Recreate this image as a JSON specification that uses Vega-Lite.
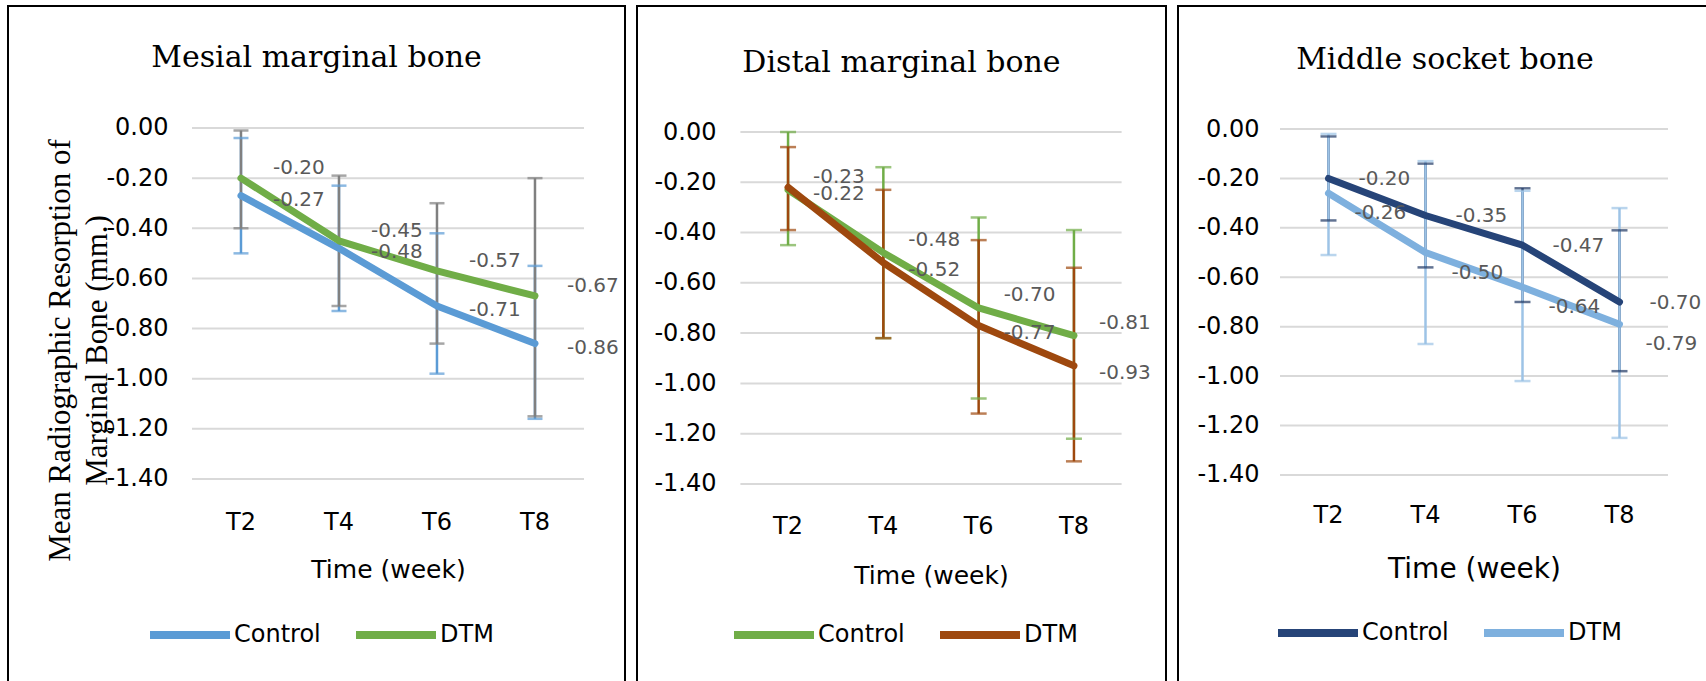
{
  "$schema": "https://vega.github.io/schema/vega-lite/v6.json",
  "padding": {"left": 7, "top": 5, "right": 0, "bottom": 0},
  "background": "white",
  "spacing": 10,
  "resolve": {"scale": {"color": "independent", "x": "independent", "y": "independent"}, "legend": {"color": "independent"}},
  "config": {
    "view": {"stroke": "black", "strokeWidth": 2},
    "locale": {"number": {"decimal": ".", "thousands": ",", "grouping": [3], "currency": ["$", ""], "minus": "-"}},
    "axis": {"grid": false, "domain": false, "ticks": false, "tickSize": 0, "labelPadding": 0, "labelColor": "black", "labelFont": "DejaVu Sans", "labelFontSize": 24, "titleColor": "black", "titleFont": "DejaVu Sans", "titleFontWeight": "normal", "labelAngle": 0},
    "title": {"font": "DejaVu Serif", "fontSize": 30, "fontWeight": "normal", "color": "black", "anchor": "middle", "frame": "group", "baseline": "alphabetic"},
    "legend": {"symbolType": "stroke", "symbolStrokeWidth": 8, "labelFont": "DejaVu Sans", "labelFontSize": 24, "labelColor": "black", "labelOffset": 0, "columnPadding": 19}
  },
  "datasets": {
    "d": [
      {"panel": "Mesial", "group": "Control", "time": "T2", "mean": -0.27, "lo": -0.50, "hi": -0.04},
      {"panel": "Mesial", "group": "Control", "time": "T4", "mean": -0.48, "lo": -0.73, "hi": -0.23},
      {"panel": "Mesial", "group": "Control", "time": "T6", "mean": -0.71, "lo": -0.98, "hi": -0.42},
      {"panel": "Mesial", "group": "Control", "time": "T8", "mean": -0.86, "lo": -1.16, "hi": -0.55},
      {"panel": "Mesial", "group": "DTM", "time": "T2", "mean": -0.20, "lo": -0.40, "hi": -0.01},
      {"panel": "Mesial", "group": "DTM", "time": "T4", "mean": -0.45, "lo": -0.71, "hi": -0.19},
      {"panel": "Mesial", "group": "DTM", "time": "T6", "mean": -0.57, "lo": -0.86, "hi": -0.30},
      {"panel": "Mesial", "group": "DTM", "time": "T8", "mean": -0.67, "lo": -1.15, "hi": -0.20},
      {"panel": "Distal", "group": "Control", "time": "T2", "mean": -0.23, "lo": -0.45, "hi": 0.00},
      {"panel": "Distal", "group": "Control", "time": "T4", "mean": -0.48, "lo": -0.82, "hi": -0.14},
      {"panel": "Distal", "group": "Control", "time": "T6", "mean": -0.70, "lo": -1.06, "hi": -0.34},
      {"panel": "Distal", "group": "Control", "time": "T8", "mean": -0.81, "lo": -1.22, "hi": -0.39},
      {"panel": "Distal", "group": "DTM", "time": "T2", "mean": -0.22, "lo": -0.39, "hi": -0.06},
      {"panel": "Distal", "group": "DTM", "time": "T4", "mean": -0.52, "lo": -0.82, "hi": -0.23},
      {"panel": "Distal", "group": "DTM", "time": "T6", "mean": -0.77, "lo": -1.12, "hi": -0.43},
      {"panel": "Distal", "group": "DTM", "time": "T8", "mean": -0.93, "lo": -1.31, "hi": -0.54},
      {"panel": "Middle", "group": "Control", "time": "T2", "mean": -0.20, "lo": -0.37, "hi": -0.03},
      {"panel": "Middle", "group": "Control", "time": "T4", "mean": -0.35, "lo": -0.56, "hi": -0.14},
      {"panel": "Middle", "group": "Control", "time": "T6", "mean": -0.47, "lo": -0.70, "hi": -0.24},
      {"panel": "Middle", "group": "Control", "time": "T8", "mean": -0.70, "lo": -0.98, "hi": -0.41},
      {"panel": "Middle", "group": "DTM", "time": "T2", "mean": -0.26, "lo": -0.51, "hi": -0.02},
      {"panel": "Middle", "group": "DTM", "time": "T4", "mean": -0.50, "lo": -0.87, "hi": -0.13},
      {"panel": "Middle", "group": "DTM", "time": "T6", "mean": -0.64, "lo": -1.02, "hi": -0.25},
      {"panel": "Middle", "group": "DTM", "time": "T8", "mean": -0.79, "lo": -1.25, "hi": -0.32}
    ],
    "grid": [
      {"mean": 0}, {"mean": -0.2}, {"mean": -0.4}, {"mean": -0.6}, {"mean": -0.8}, {"mean": -1.0}, {"mean": -1.2}, {"mean": -1.4}
    ]
  },
  "hconcat": [
    {
      "width": 617,
      "height": 677,
      "title": {"text": "Mesial marginal bone", "offset": -67},
      "encoding": {
        "x": {"field": "time", "type": "nominal", "scale": {"type": "band", "domain": [" ", "T2", "T4", "T6", "T8"], "paddingInner": 0, "paddingOuter": 0.648, "align": 0.677},
          "axis": {"offset": -173, "labelFontSize": 24, "title": "Time (week)", "titleFontSize": 25, "titleX": 380, "titleY": 67, "titleBaseline": "alphabetic"}},
        "y": {"field": "mean", "type": "quantitative", "scale": {"domain": [-2.2138, 0.4866], "nice": false, "zero": false},
          "axis": {"values": [0, -0.2, -0.4, -0.6, -0.8, -1.0, -1.2, -1.4], "format": ".2f", "offset": -160,
            "title": ["Mean Radiographic Resorption of", "Marginal Bone (mm.)"], "titleFont": "Liberation Serif", "titleFontSize": 31, "titleLineHeight": 37, "titleAngle": -90, "titleX": -108, "titleY": 344, "titleBaseline": "middle", "titleAlign": "center"}}
      },
      "layer": [
        {"data": {"name": "grid"}, "mark": {"type": "rule", "color": "#D9D9D9", "strokeWidth": 2},
          "encoding": {"x": {"datum": "T2", "bandPosition": 0}, "x2": {"datum": "T8", "bandPosition": 1}}},
        {"data": {"name": "d"}, "transform": [{"filter": "datum.panel == 'Mesial'"}],
          "mark": {"type": "rule", "strokeWidth": 2.5},
          "encoding": {"y": {"field": "lo", "type": "quantitative"}, "y2": {"field": "hi"},
            "stroke": {"condition": {"test": "datum.group == 'Control'", "value": "#5B9BD5"}, "value": "#808080"}}},
        {"data": {"name": "d"}, "transform": [{"filter": "datum.panel == 'Mesial'"}],
          "mark": {"type": "tick", "orient": "horizontal", "size": 15, "thickness": 2.5},
          "encoding": {"y": {"field": "lo", "type": "quantitative"},
            "fill": {"condition": {"test": "datum.group == 'Control'", "value": "#5B9BD5"}, "value": "#808080"}}},
        {"data": {"name": "d"}, "transform": [{"filter": "datum.panel == 'Mesial'"}],
          "mark": {"type": "tick", "orient": "horizontal", "size": 15, "thickness": 2.5},
          "encoding": {"y": {"field": "hi", "type": "quantitative"},
            "fill": {"condition": {"test": "datum.group == 'Control'", "value": "#5B9BD5"}, "value": "#808080"}}},
        {"data": {"name": "d"}, "transform": [{"filter": "datum.panel == 'Mesial'"}],
          "mark": {"type": "line", "strokeWidth": 7, "strokeCap": "round", "strokeJoin": "round"},
          "encoding": {"color": {"field": "group", "type": "nominal", "scale": {"domain": ["Control", "DTM"], "range": ["#5B9BD5", "#70AD47"]},
            "legend": {"orient": "none", "legendX": 138, "legendY": 585, "direction": "horizontal", "title": null, "symbolSize": 6400, "padding": 0}}}},
        {"data": {"name": "d"}, "transform": [{"filter": "datum.panel == 'Mesial' && datum.group == 'DTM'"}],
          "mark": {"type": "text", "align": "left", "baseline": "middle", "dx": 32, "dy": -10, "font": "DejaVu Sans", "fontSize": 20, "color": "#595959"},
          "encoding": {"text": {"field": "mean", "type": "quantitative", "format": ".2f"}}},
        {"data": {"name": "d"}, "transform": [{"filter": "datum.panel == 'Mesial' && datum.group == 'Control'"}],
          "mark": {"type": "text", "align": "left", "baseline": "middle", "dx": 32, "dy": 4, "font": "DejaVu Sans", "fontSize": 20, "color": "#595959"},
          "encoding": {"text": {"field": "mean", "type": "quantitative", "format": ".2f"}}}
      ]
    },
    {
      "width": 529,
      "height": 677,
      "title": {"text": "Distal marginal bone", "offset": -72},
      "encoding": {
        "x": {"field": "time", "type": "nominal", "scale": {"type": "band", "domain": ["T2", "T4", "T6", "T8"], "paddingInner": 0, "paddingOuter": 0.7755, "align": 0.6996},
          "axis": {"offset": -169, "labelFontSize": 24, "title": "Time (week)", "titleFontSize": 25, "titleX": 294, "titleY": 69, "titleBaseline": "alphabetic"}},
        "y": {"field": "mean", "type": "quantitative", "scale": {"domain": [-2.1917, 0.5012], "nice": false, "zero": false},
          "axis": {"values": [0, -0.2, -0.4, -0.6, -0.8, -1.0, -1.2, -1.4], "format": ".2f", "offset": -79, "title": null}}
      },
      "layer": [
        {"data": {"name": "grid"}, "mark": {"type": "rule", "color": "#D9D9D9", "strokeWidth": 2},
          "encoding": {"x": {"datum": "T2", "bandPosition": 0}, "x2": {"datum": "T8", "bandPosition": 1}}},
        {"data": {"name": "d"}, "transform": [{"filter": "datum.panel == 'Distal'"}],
          "mark": {"type": "rule", "strokeWidth": 2.5},
          "encoding": {"y": {"field": "lo", "type": "quantitative"}, "y2": {"field": "hi"},
            "stroke": {"condition": {"test": "datum.group == 'Control'", "value": "#70AD47"}, "value": "#9E480E"}}},
        {"data": {"name": "d"}, "transform": [{"filter": "datum.panel == 'Distal'"}],
          "mark": {"type": "tick", "orient": "horizontal", "size": 16, "thickness": 2.5},
          "encoding": {"y": {"field": "lo", "type": "quantitative"},
            "fill": {"condition": {"test": "datum.group == 'Control'", "value": "#70AD47"}, "value": "#9E480E"}}},
        {"data": {"name": "d"}, "transform": [{"filter": "datum.panel == 'Distal'"}],
          "mark": {"type": "tick", "orient": "horizontal", "size": 16, "thickness": 2.5},
          "encoding": {"y": {"field": "hi", "type": "quantitative"},
            "fill": {"condition": {"test": "datum.group == 'Control'", "value": "#70AD47"}, "value": "#9E480E"}}},
        {"data": {"name": "d"}, "transform": [{"filter": "datum.panel == 'Distal'"}],
          "mark": {"type": "line", "strokeWidth": 7, "strokeCap": "round", "strokeJoin": "round"},
          "encoding": {"color": {"field": "group", "type": "nominal", "scale": {"domain": ["Control", "DTM"], "range": ["#70AD47", "#9E480E"]},
            "legend": {"orient": "none", "legendX": 93, "legendY": 585, "direction": "horizontal", "title": null, "symbolSize": 6400, "padding": 0}}}},
        {"data": {"name": "d"}, "transform": [{"filter": "datum.panel == 'Distal' && datum.group == 'Control'"}],
          "mark": {"type": "text", "align": "left", "baseline": "middle", "dx": 25, "dy": -13, "font": "DejaVu Sans", "fontSize": 20, "color": "#595959"},
          "encoding": {"text": {"field": "mean", "type": "quantitative", "format": ".2f"}}},
        {"data": {"name": "d"}, "transform": [{"filter": "datum.panel == 'Distal' && datum.group == 'DTM'"}],
          "mark": {"type": "text", "align": "left", "baseline": "middle", "dx": 25, "dy": 7, "font": "DejaVu Sans", "fontSize": 20, "color": "#595959"},
          "encoding": {"text": {"field": "mean", "type": "quantitative", "format": ".2f"}}}
      ]
    },
    {
      "width": 534,
      "height": 677,
      "title": {"text": "Middle socket bone", "offset": -69},
      "encoding": {
        "x": {"field": "time", "type": "nominal", "scale": {"type": "band", "domain": ["T2", "T4", "T6", "T8"], "paddingInner": 0, "paddingOuter": 0.7526, "align": 0.6986},
          "axis": {"offset": -180, "labelFontSize": 24, "title": "Time (week)", "titleFontSize": 28, "titleX": 296, "titleY": 74, "titleBaseline": "alphabetic"}},
        "y": {"field": "mean", "type": "quantitative", "scale": {"domain": [-2.2419, 0.4978], "nice": false, "zero": false},
          "axis": {"values": [0, -0.2, -0.4, -0.6, -0.8, -1.0, -1.2, -1.4], "format": ".2f", "offset": -81, "title": null}}
      },
      "layer": [
        {"data": {"name": "grid"}, "mark": {"type": "rule", "color": "#D9D9D9", "strokeWidth": 2},
          "encoding": {"x": {"datum": "T2", "bandPosition": 0}, "x2": {"datum": "T8", "bandPosition": 1}}},
        {"data": {"name": "d"}, "transform": [{"filter": "datum.panel == 'Middle'"}],
          "mark": {"type": "rule", "strokeWidth": 2.5},
          "encoding": {"y": {"field": "lo", "type": "quantitative"}, "y2": {"field": "hi"},
            "stroke": {"condition": {"test": "datum.group == 'Control'", "value": "#1F3864"}, "value": "#9DC3E6"}}},
        {"data": {"name": "d"}, "transform": [{"filter": "datum.panel == 'Middle'"}],
          "mark": {"type": "tick", "orient": "horizontal", "size": 16, "thickness": 2.5},
          "encoding": {"y": {"field": "lo", "type": "quantitative"},
            "fill": {"condition": {"test": "datum.group == 'Control'", "value": "#1F3864"}, "value": "#9DC3E6"}}},
        {"data": {"name": "d"}, "transform": [{"filter": "datum.panel == 'Middle'"}],
          "mark": {"type": "tick", "orient": "horizontal", "size": 16, "thickness": 2.5},
          "encoding": {"y": {"field": "hi", "type": "quantitative"},
            "fill": {"condition": {"test": "datum.group == 'Control'", "value": "#1F3864"}, "value": "#9DC3E6"}}},
        {"data": {"name": "d"}, "transform": [{"filter": "datum.panel == 'Middle'"}],
          "mark": {"type": "line", "strokeWidth": 7, "strokeCap": "round", "strokeJoin": "round"},
          "encoding": {"color": {"field": "group", "type": "nominal", "scale": {"domain": ["Control", "DTM"], "range": ["#264478", "#7EB0DE"]},
            "legend": {"orient": "none", "legendX": 96, "legendY": 583, "direction": "horizontal", "title": null, "symbolSize": 6400, "padding": 0}}}},
        {"data": {"name": "d"}, "transform": [{"filter": "datum.panel == 'Middle' && datum.group == 'Control'"}],
          "mark": {"type": "text", "align": "left", "baseline": "middle", "dx": 30, "dy": 1, "font": "DejaVu Sans", "fontSize": 20, "color": "#595959"},
          "encoding": {"text": {"field": "mean", "type": "quantitative", "format": ".2f"}}},
        {"data": {"name": "d"}, "transform": [{"filter": "datum.panel == 'Middle' && datum.group == 'DTM'"}],
          "mark": {"type": "text", "align": "left", "baseline": "middle", "dx": 26, "dy": 20, "font": "DejaVu Sans", "fontSize": 20, "color": "#595959"},
          "encoding": {"text": {"field": "mean", "type": "quantitative", "format": ".2f"}}}
      ]
    }
  ]
}
